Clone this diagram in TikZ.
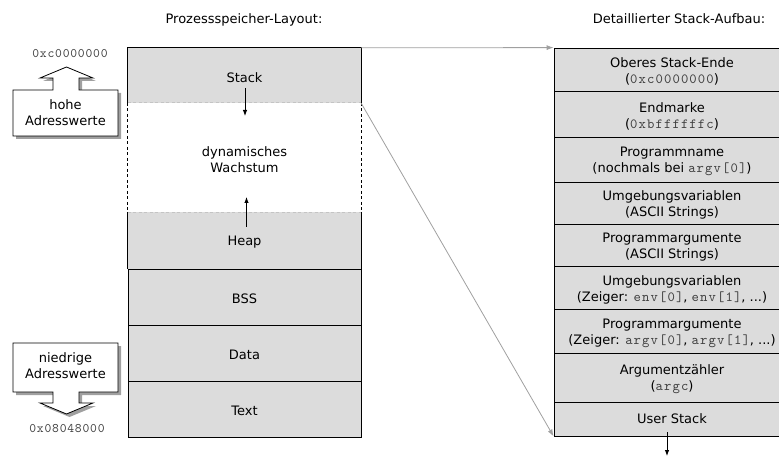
\documentclass[tikz,border=0pt]{standalone}
\usepackage{fontspec}
\setmainfont{DejaVu Sans}
\newfontfamily\codefont{lmmono10-regular.otf}[LetterSpace=8]
\newfontfamily\addrfont{lmmono10-regular.otf}[LetterSpace=6]
\usetikzlibrary{arrows.meta}
\definecolor{cellgray}{HTML}{DCDCDC}
\definecolor{linkgray}{HTML}{A0A0A0}
\definecolor{dashgray}{HTML}{C4C4C4}
\definecolor{shadowgray}{HTML}{A0A0A0}
\definecolor{monogray}{HTML}{404040}
\newcommand\monotxt[1]{{\fontsize{14}{16}\selectfont\codefont\color{monogray}#1}}
\begin{document}
\begin{tikzpicture}[x=1pt,y=-1pt,
  txt/.style={font=\fontsize{13}{16}\selectfont, align=center, inner sep=0pt},
  addrtxt/.style={font=\fontsize{13}{15}\selectfont\addrfont, text=monogray, inner sep=0pt},
  lcell/.style={fill=cellgray, minimum width=233pt, inner sep=0pt},
  rcell/.style={fill=cellgray, draw=black, line width=0.8pt, minimum width=236pt, inner sep=0pt},
  edge/.style={draw=black, line width=0.8pt},
  dashedge/.style={draw=black, line width=0.8pt, dash pattern=on 3pt off 2.5pt},
  graydash/.style={draw=dashgray, line width=0.8pt, dash pattern=on 3pt off 2.5pt},
  link/.style={draw=linkgray, line width=0.8pt, -{Latex[length=7pt,width=5pt]}},
  growarrow/.style={draw=black, line width=0.9pt, -{Latex[length=6pt,width=4.5pt]}},
  addrshape/.style={draw=black, line width=0.8pt, fill=white},
  addrshadow/.style={fill=shadowgray}
]
\useasboundingbox (0,0) rectangle (779,457);
\clip (0,0) rectangle (779,457);

% titles
\node[txt] (title1) at (244,20) {Prozessspeicher-Layout:};
\node[txt] (title2) at (679,19) {Detaillierter Stack-Aufbau:};

% left column cells
\node[lcell, minimum height=55pt] (stack) at (244.5,75.5) {};
\node[lcell, minimum height=109pt, fill=white] (dyn) at (244.5,157.5) {};
\node[lcell, minimum height=57pt] (heap) at (244.5,240.5) {};
\node[lcell, minimum height=56pt, draw=black, line width=0.8pt] (bss) at (244.5,297) {};
\node[lcell, minimum height=56pt, draw=black, line width=0.8pt] (data) at (244.5,353) {};
\node[lcell, minimum height=56pt, draw=black, line width=0.8pt] (textseg) at (244.5,409) {};

\draw[edge] (stack.south west) -- (stack.north west) -- (stack.north east) -- (stack.south east);
\draw[dashedge] (dyn.north west) -- (dyn.south west);
\draw[dashedge] (dyn.north east) -- (dyn.south east);
\draw[graydash] (dyn.north west) -- (dyn.north east);
\draw[graydash] (dyn.south west) -- (dyn.south east);
\draw[edge] (heap.north west) -- (heap.south west);
\draw[edge] (heap.north east) -- (heap.south east);

\node[txt] (stack-t) at ([yshift=-2pt]stack.center) {Stack};
\node[txt] (dyn-t) at ([yshift=-2pt]dyn.center) {dynamisches\\Wachstum};
\node[txt] (heap-t) at ([yshift=-2pt]heap.center) {Heap};
\node[txt] (bss-t) at ([yshift=-2pt]bss.center) {BSS};
\node[txt] (data-t) at ([yshift=-2pt]data.center) {Data};
\node[txt] (text-t) at ([yshift=-2pt]textseg.center) {Text};

% growth arrows
\coordinate (sa1) at (245,88);
\coordinate (sa2) at (245,116);
\coordinate (ha1) at (246.5,227);
\coordinate (ha2) at (246.5,197);
\draw[growarrow] (sa1) -- (sa2);
\draw[growarrow] (ha1) -- (ha2);

% right column
\node[rcell, minimum height=43pt] (r1) at (672,69.5) {};
\node[rcell, minimum height=46pt] (r2) at (672,114) {};
\node[rcell, minimum height=45pt] (r3) at (672,159.5) {};
\node[rcell, minimum height=42pt] (r4) at (672,203) {};
\node[rcell, minimum height=42pt] (r5) at (672,245) {};
\node[rcell, minimum height=43pt] (r6) at (672,287.5) {};
\node[rcell, minimum height=44pt] (r7) at (672,331) {};
\node[rcell, minimum height=49pt] (r8) at (672,377.5) {};
\node[rcell, minimum height=34pt] (r9) at (672,419) {};

\node[txt] (r1-t) at ([yshift=-2pt]r1.center) {Oberes Stack-Ende\\(\monotxt{0xc0000000})};
\node[txt] (r2-t) at ([yshift=-2pt]r2.center) {Endmarke\\(\monotxt{0xbffffffc})};
\node[txt] (r3-t) at ([yshift=-2pt]r3.center) {Programmname\\(nochmals bei \monotxt{argv[0]})};
\node[txt] (r4-t) at ([yshift=-2pt]r4.center) {Umgebungsvariablen\\(ASCII Strings)};
\node[txt] (r5-t) at ([yshift=-2pt]r5.center) {Programmargumente\\(ASCII Strings)};
\node[txt] (r6-t) at ([yshift=-2pt]r6.center) {Umgebungsvariablen\\(Zeiger: \monotxt{env[0]}, \monotxt{env[1]}, ...)};
\node[txt] (r7-t) at ([yshift=-2pt]r7.center) {Programmargumente\\(Zeiger: \monotxt{argv[0]}, \monotxt{argv[1]}, ...)};
\node[txt] (r8-t) at ([yshift=-2pt]r8.center) {Argumentzähler\\(\monotxt{argc})};
\node[txt] (r9-t) at (r9.center) {User Stack};

\coordinate (usend) at (667,456);
\draw[growarrow] (r9.south -| usend) ++(0,-4) -- (usend);

% links
\draw[link] (stack.north east) -- (r1.north west);
\draw[link] (stack.south east) -- (r9.south west);

% high address arrow
\path[addrshadow, shift={(3,3)}] (13,90) -- (53,90) -- (53,78) -- (40,78) -- (66.5,67) -- (93,78) -- (79,78) -- (79,90) -- (118,90) -- (118,136) -- (13,136) -- cycle;
\path[addrshape] (13,90) -- (53,90) -- (53,78) -- (40,78) -- (66.5,67) -- (93,78) -- (79,78) -- (79,90) -- (118,90) -- (118,136) -- (13,136) -- cycle;
\node[txt] (hohe) at (65.5,113) {hohe\\Adresswerte};
\node[addrtxt] (hiaddr) at (70,54) {0xc0000000};

% low address arrow
\path[addrshadow, shift={(3,3)}] (13,343) -- (118,343) -- (118,392) -- (79,392) -- (79,403) -- (93,403) -- (66.5,414) -- (40,403) -- (53,403) -- (53,392) -- (13,392) -- cycle;
\path[addrshape] (13,343) -- (118,343) -- (118,392) -- (79,392) -- (79,403) -- (93,403) -- (66.5,414) -- (40,403) -- (53,403) -- (53,392) -- (13,392) -- cycle;
\node[txt] (niedrig) at (65.5,366) {niedrige\\Adresswerte};
\node[addrtxt] (loaddr) at (67,429) {0x08048000};
\end{tikzpicture}
\end{document}
